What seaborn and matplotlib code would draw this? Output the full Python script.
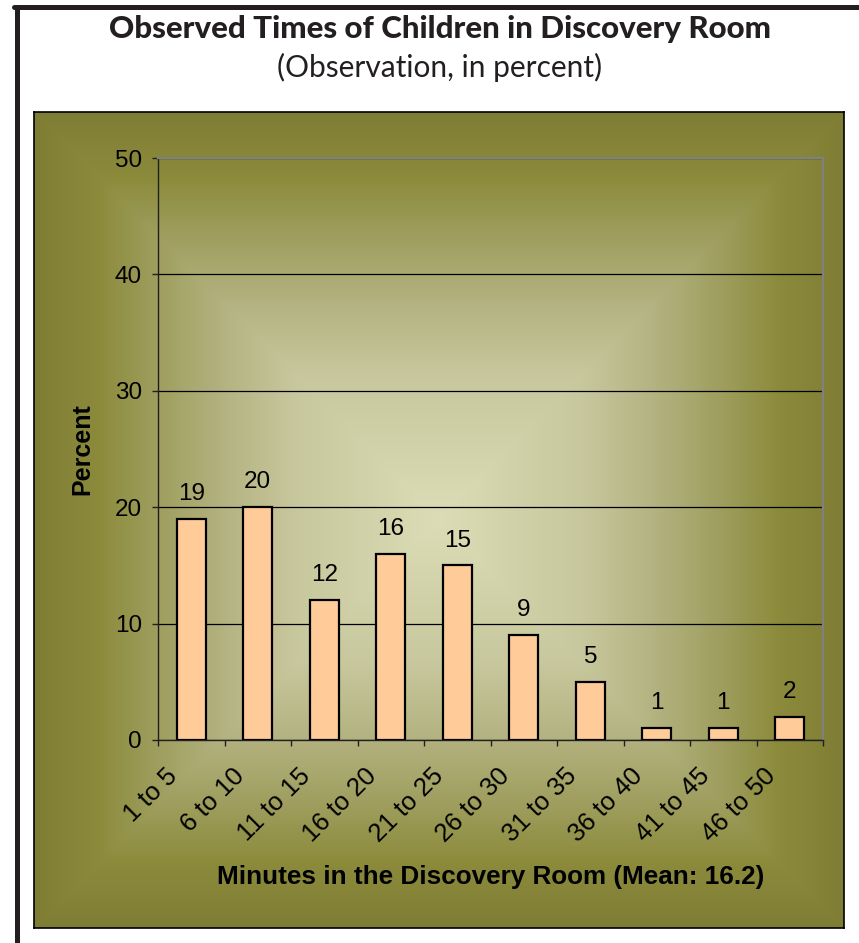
import numpy as np
import pandas as pd
import matplotlib
matplotlib.use("Agg")
import matplotlib.pyplot as plt
import matplotlib.transforms as mtransforms
from matplotlib.lines import Line2D
import seaborn as sns

categories = ["1 to 5", "6 to 10", "11 to 15", "16 to 20", "21 to 25",
              "26 to 30", "31 to 35", "36 to 40", "41 to 45", "46 to 50"]
percent = [19, 20, 12, 16, 15, 9, 5, 1, 1, 2]
y_ticks = [0, 10, 20, 30, 40, 50]

title = "Observed Times of Children in Discovery Room"
subtitle = "(Observation, in percent)"
xlabel = "Minutes in the Discovery Room (Mean: 16.2)"
ylabel = "Percent"

df = pd.DataFrame({"cat": categories, "pct": percent})

sns.set_style("white")
plt.rcParams["font.family"] = ["Liberation Sans", "DejaVu Sans"]
for key in ["text.color", "axes.labelcolor", "xtick.color", "ytick.color"]:
    plt.rcParams[key] = "black"

W, H = 859, 943
fig = plt.figure(figsize=(W / 100, H / 100), dpi=100)
fig.patch.set_facecolor("white")

def fx(px):
    return px / W

def fy(py):
    return 1 - py / H

# Outer frame (left and top)
fig.add_artist(Line2D([fx(16.5), fx(16.5)], [fy(7), fy(945)], color="#231f20", lw=3.6, transform=fig.transFigure))
fig.add_artist(Line2D([fx(14), fx(862)], [fy(7), fy(7)], color="#231f20", lw=3.6, transform=fig.transFigure))

# Panel background with rectangular gradient from center
p_l, p_r, p_t, p_b = 34, 844, 112, 928
ax_bg = fig.add_axes([fx(p_l), fy(p_b), fx(p_r - p_l), (p_b - p_t) / H])
nx, ny = 400, 400
xx = np.linspace(-1, 1, nx)
yy = np.linspace(-1, 1, ny)
X, Y = np.meshgrid(xx, yy)
T = np.maximum(np.abs(X), np.abs(Y))
stops_t = [0.0, 0.35, 0.52, 0.69, 0.84, 1.0]
stops_c = np.array([[220, 220, 182], [200, 200, 158], [181, 180, 131],
                    [160, 159, 96], [140, 139, 60], [126, 125, 52]]) / 255.0
img = np.zeros((ny, nx, 3))
for k in range(3):
    img[..., k] = np.interp(T, stops_t, stops_c[:, k])
ax_bg.imshow(img, extent=[0, 1, 0, 1], aspect="auto", interpolation="bilinear")
ax_bg.set_xlim(0, 1)
ax_bg.set_ylim(0, 1)
ax_bg.set_xticks([])
ax_bg.set_yticks([])
for s in ax_bg.spines.values():
    s.set_color("black")
    s.set_linewidth(1.2)

# Main axes
a_l, a_r, a_t, a_b = 158, 823, 158, 740
ax = fig.add_axes([fx(a_l), fy(a_b), fx(a_r - a_l), (a_b - a_t) / H])
ax.set_facecolor("none")

sns.barplot(data=df, x="cat", y="pct", ax=ax, color="#FFCC99", width=0.43,
            edgecolor="black", linewidth=1.6, saturation=1)

ax.set_xlim(-0.5, len(categories) - 0.5)
ax.set_ylim(0, 50)
ax.set_yticks(y_ticks)
ax.set_yticklabels([str(v) for v in y_ticks], fontsize=17.5)
ax.set_axisbelow(True)
ax.yaxis.grid(True, color="black", lw=0.9)
ax.xaxis.grid(False)

# x ticks: boundaries (major, no labels), centers (minor, labels)
ax.set_xticks(np.arange(-0.5, len(categories), 1.0))
ax.set_xticklabels([])
ax.set_xticks(np.arange(len(categories)), minor=True)
ax.set_xticklabels(categories, minor=True, fontsize=18.5, rotation=45, ha="right", va="top")
ax.tick_params(axis="x", which="major", direction="out", length=4.5, width=1, color="#202020", bottom=True)
ax.tick_params(axis="x", which="minor", length=0, pad=17, bottom=True)
ax.tick_params(axis="y", which="major", direction="out", length=4.5, width=1, color="#202020", pad=7, left=True)

offset = mtransforms.ScaledTranslation(-9 / 100, 0, fig.dpi_scale_trans)
for lab in ax.get_xticklabels(minor=True):
    lab.set_transform(lab.get_transform() + offset)

for side in ["left", "bottom"]:
    ax.spines[side].set_color("#202020")
    ax.spines[side].set_linewidth(1)
for side in ["top", "right"]:
    ax.spines[side].set_visible(True)
    ax.spines[side].set_color("#808080")
    ax.spines[side].set_linewidth(1.6)

ax.bar_label(ax.containers[0], labels=[str(v) for v in percent], padding=10, fontsize=17.5)

ax.set_xlabel(xlabel, fontsize=18.8, fontweight="bold", va="center")
ax.xaxis.set_label_coords(0.5, (a_b - 877) / (a_b - a_t))
ax.set_ylabel(ylabel, fontsize=18, fontweight="bold", va="center")
ax.yaxis.set_label_coords((82.5 - a_l) / (a_r - a_l), 0.5)

fig.text(fx(439.5), fy(29), title, ha="center", va="center", fontsize=22.5,
         fontweight="black", family=["Lato", "DejaVu Sans"], color="#231f20")
fig.text(fx(439.5), fy(67), subtitle, ha="center", va="center", fontsize=21.5,
         family=["Lato", "DejaVu Sans"], color="#231f20")

fig.savefig("out.png", dpi=100)
